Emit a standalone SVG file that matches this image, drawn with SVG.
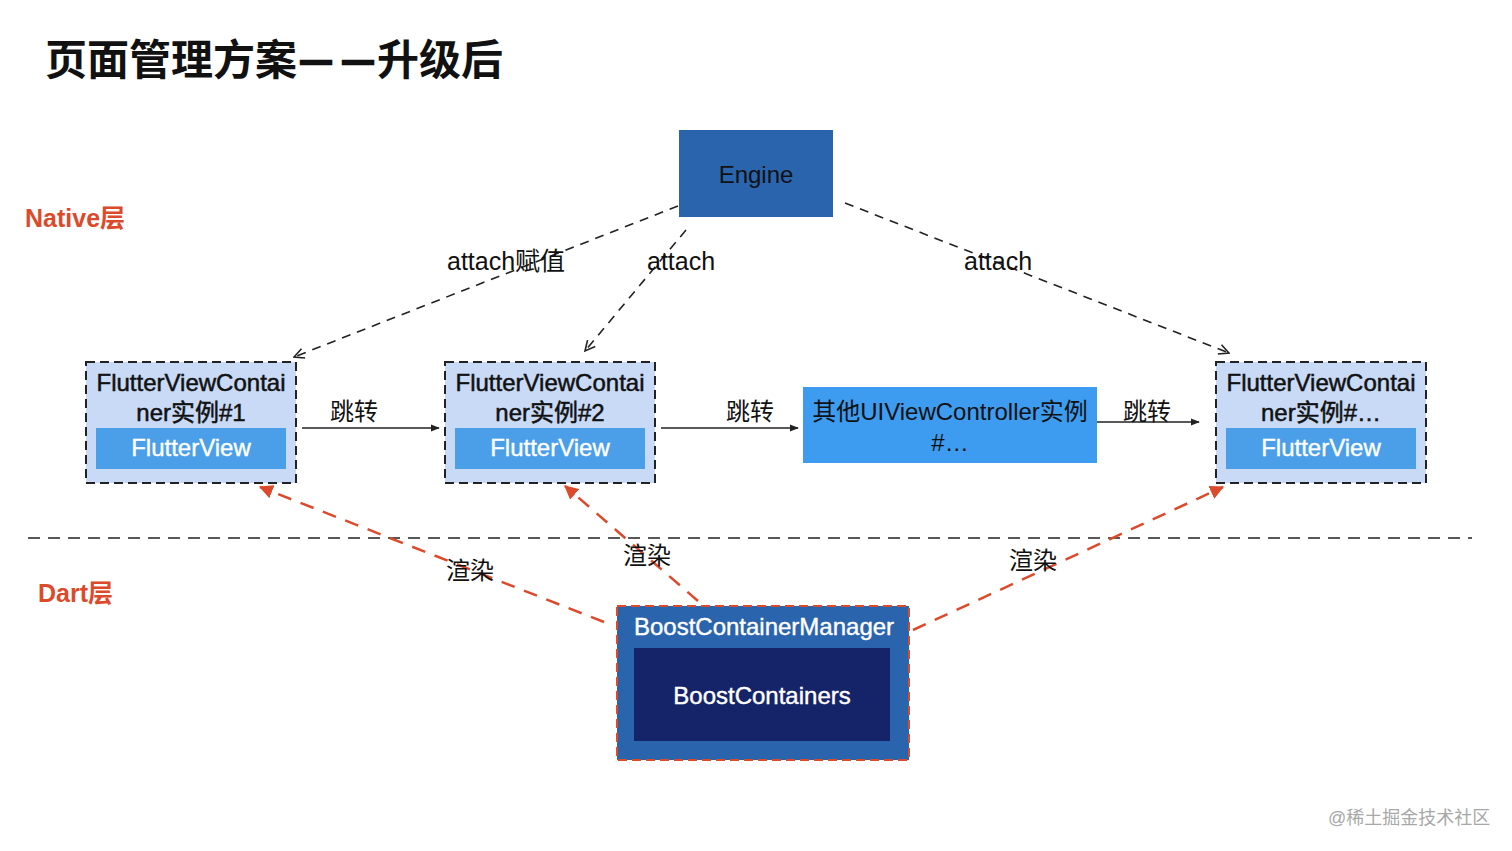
<svg xmlns="http://www.w3.org/2000/svg" width="1512" height="851" viewBox="0 0 1512 851">
<style>
text{font-family:"Liberation Sans","Noto Sans CJK SC",sans-serif;}
.t{font-size:24px;fill:#111;}
.ta{font-size:25px;fill:#111;}
.tc{font-size:24px;fill:#111;text-anchor:middle;}
.tb{font-size:24px;fill:#111;text-anchor:middle;stroke:#111;stroke-width:0.5;}
.w{font-size:24px;fill:#fff;text-anchor:middle;}
.wb{font-size:24px;fill:#fff;text-anchor:middle;stroke:#fff;stroke-width:0.4;}
.layer{font-size:25px;font-weight:bold;fill:#dc4a2c;}
.cont{fill:#c9daf6;stroke:#222;stroke-width:2;stroke-dasharray:9 5;}
.fv{fill:#4a9fe8;}
.att{fill:none;stroke:#222;stroke-width:1.6;stroke-dasharray:9 7;}
.jump{fill:none;stroke:#222;stroke-width:1.6;}
.red{fill:none;stroke:#dc4a2c;stroke-width:2.5;stroke-dasharray:14 10;}
.dash{font-size:30px;stroke:#111;stroke-width:2.5;}
</style>
<defs>
<marker id="open" viewBox="0 0 12 12" refX="11" refY="6" markerWidth="12" markerHeight="12" markerUnits="userSpaceOnUse" orient="auto">
<path d="M1,1 L11,6 L1,11" fill="none" stroke="#222" stroke-width="1.6"/>
</marker>
<marker id="tri" viewBox="0 0 10 10" refX="9" refY="5" markerWidth="9" markerHeight="9" markerUnits="userSpaceOnUse" orient="auto">
<path d="M0,1 L10,5 L0,9 Z" fill="#222"/>
</marker>
<marker id="redtri" viewBox="0 0 12 12" refX="11" refY="6" markerWidth="14" markerHeight="14" markerUnits="userSpaceOnUse" orient="auto">
<path d="M0,0 L12,6 L0,12 Z" fill="#dc4a2c"/>
</marker>
</defs>
<rect width="1512" height="851" fill="#fff"/>

<text x="45" y="75" style="font-size:42px;font-weight:bold;fill:#111;">页面管理方案<tspan dx="4" dy="-4" class="dash">—</tspan><tspan dx="12" class="dash">—</tspan><tspan dx="4" dy="4">升级后</tspan></text>
<text class="layer" x="25" y="227">Native层</text>
<text class="layer" x="38" y="602">Dart层</text>

<line x1="28" y1="538" x2="1472" y2="538" stroke="#222" stroke-width="1.6" stroke-dasharray="12 8"/>

<g id="connectors">
<line class="att" x1="678" y1="206" x2="294" y2="357" marker-end="url(#open)"/>
<line class="att" x1="686" y1="230" x2="585" y2="351" marker-end="url(#open)"/>
<line class="att" x1="845" y1="203" x2="1229" y2="353" marker-end="url(#open)"/>
<line class="jump" x1="302" y1="428" x2="439" y2="428" marker-end="url(#tri)"/>
<line class="jump" x1="661" y1="428" x2="798" y2="428" marker-end="url(#tri)"/>
<line class="jump" x1="1097" y1="422" x2="1199" y2="422" marker-end="url(#tri)"/>
<line class="red" x1="604" y1="622" x2="260" y2="487" marker-end="url(#redtri)"/>
<line class="red" x1="698" y1="601" x2="565" y2="486" marker-end="url(#redtri)"/>
<line class="red" x1="913" y1="630" x2="1223" y2="487" marker-end="url(#redtri)"/>
<text class="ta" x="447" y="270">attach赋值</text>
<text class="ta" x="647" y="270">attach</text>
<text class="ta" x="964" y="270">attach</text>
<text class="t" x="330" y="420">跳转</text>
<text class="t" x="726" y="420">跳转</text>
<text class="t" x="1123" y="420">跳转</text>
<text class="t" x="446" y="579">渲染</text>
<text class="t" x="623" y="564">渲染</text>
<text class="t" x="1009" y="569">渲染</text>
</g>

<g id="engine">
<rect x="679" y="130" width="154" height="87" fill="#2a64ad"/>
<text class="tc" x="756" y="183">Engine</text>
</g>

<g id="container1">
<rect class="cont" x="86" y="362" width="210" height="121"/>
<text class="tb" x="191" y="391">FlutterViewContai</text>
<text class="tb" x="191" y="421">ner实例#1</text>
<rect class="fv" x="96" y="428" width="190" height="41"/>
<text class="wb" x="191" y="456">FlutterView</text>
</g>

<g id="container2">
<rect class="cont" x="445" y="362" width="210" height="121"/>
<text class="tb" x="550" y="391">FlutterViewContai</text>
<text class="tb" x="550" y="421">ner实例#2</text>
<rect class="fv" x="455" y="428" width="190" height="41"/>
<text class="wb" x="550" y="456">FlutterView</text>
</g>

<g id="other">
<rect x="803" y="387" width="294" height="76" fill="#3d9cf0"/>
<text class="tc" x="950" y="420">其他UIViewController实例</text>
<text class="tc" x="950" y="451">#…</text>
</g>

<g id="container3">
<rect class="cont" x="1216" y="362" width="210" height="121"/>
<text class="tb" x="1321" y="391">FlutterViewContai</text>
<text class="tb" x="1321" y="421">ner实例#…</text>
<rect class="fv" x="1226" y="428" width="190" height="41"/>
<text class="wb" x="1321" y="456">FlutterView</text>
</g>

<g id="manager">
<rect x="617" y="606" width="292" height="154" fill="#2a64ad" stroke="#dc4a2c" stroke-width="2" stroke-dasharray="9 5"/>
<text class="wb" x="764" y="635">BoostContainerManager</text>
<rect x="634" y="648" width="256" height="93" fill="#152468"/>
<text class="wb" x="762" y="704">BoostContainers</text>
</g>

<text x="1328" y="824" style="font-size:18px;fill:#a8a8a8;">@稀土掘金技术社区</text>
</svg>
